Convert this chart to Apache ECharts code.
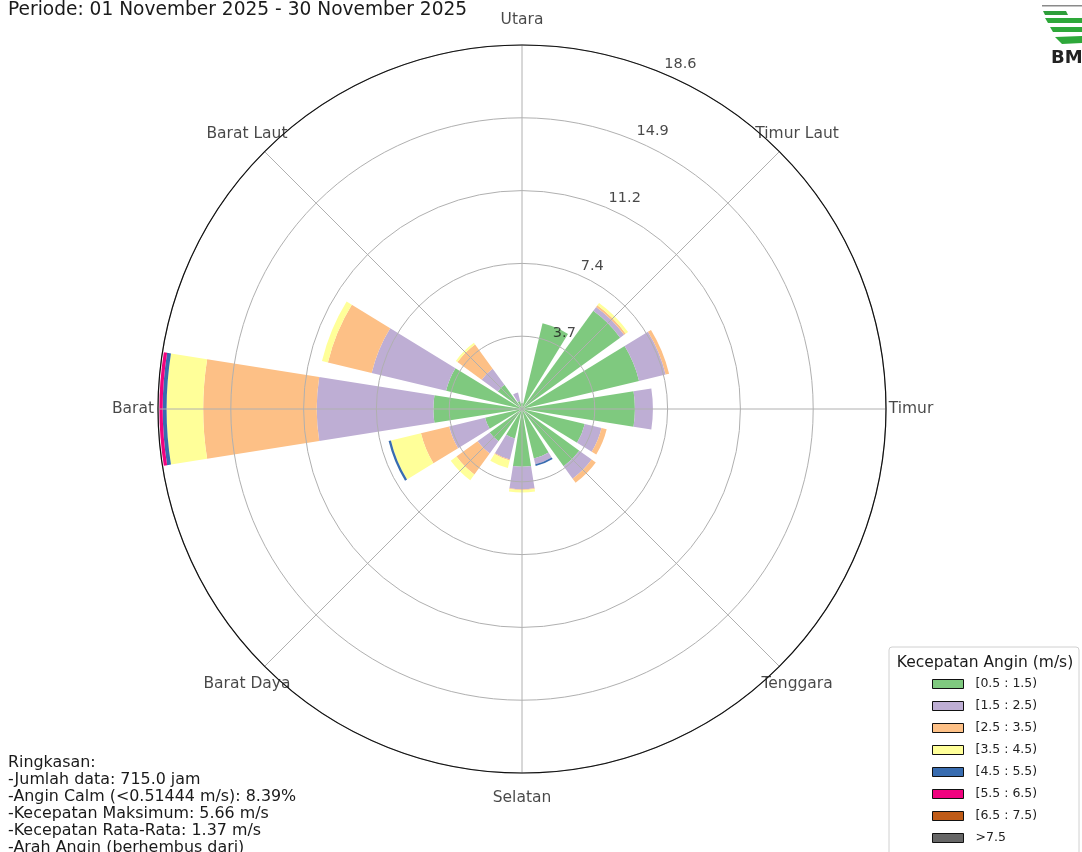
<!DOCTYPE html>
<html><head><meta charset="utf-8">
<script src="https://cdn.jsdelivr.net/npm/echarts@6/dist/echarts.min.js"></script>
<style>html,body{margin:0;padding:0;background:#fff;overflow:hidden}#main{width:1082px;height:852px;}</style>
</head><body><div id="main"></div>
<script>
// ---- data ----
const directions = ['N','NNE','NE','ENE','E','ESE','SE','SSE','S','SSW','SW','WSW','W','WNW','NW','NNW'];
const directionLabels = ['Utara','Timur Laut','Timur','Tenggara','Selatan','Barat Daya','Barat','Barat Laut'];
const directionLabelAngles = [0,45,90,135,180,225,270,315];
const speedBins = ['[0.5 : 1.5)','[1.5 : 2.5)','[2.5 : 3.5)','[3.5 : 4.5)','[4.5 : 5.5)','[5.5 : 6.5)','[6.5 : 7.5)','>7.5'];
const binColors = ['#7fc97f','#beaed4','#fdc086','#ffff99','#386cb0','#f0027f','#bf5b17','#666666'];
// frequency (%) per direction, per speed bin
const bin05_15 = [0.3,4.5,6.2,6.15,5.77,3.3,3.62,2.6,2.95,1.55,2.04,1.94,4.53,3.99,1.53,0.42];
const bin15_25 = [0,0,0.25,1.4,0.92,0.88,0.78,0.3,1.15,1.1,0.77,1.89,5.96,3.91,1.02,0.45];
const bin25_35 = [0,0,0.1,0.18,0,0.27,0.26,0,0.04,0.05,1.33,1.48,5.8,2.3,1.53,0];
const bin35_45 = [0,0,0.15,0,0,0,0,0,0.13,0.4,0.36,1.58,1.87,0.31,0.1,0];
const bin45_55 = [0,0,0,0,0,0,0,0.1,0,0,0,0.12,0.2,0,0,0];
const bin55_65 = [0,0,0,0,0,0,0,0,0,0,0,0,0.17,0,0,0];
const bin65_75 = [0,0,0,0,0,0,0,0,0,0,0,0,0,0,0,0];
const bin75_up = [0,0,0,0,0,0,0,0,0,0,0,0,0,0,0,0];
const binValues = [bin05_15,bin15_25,bin25_35,bin35_45,bin45_55,bin55_65,bin65_75,bin75_up];
const radiusTicks = [3.72, 7.44, 11.16, 14.88, 18.6];
const radiusMax = 18.6;
const radiusLabelAngle = 22.5;
const titleText = 'Periode: 01 November 2025 - 30 November 2025';
const summaryLines = ['Ringkasan:','-Jumlah data: 715.0 jam','-Angin Calm (<0.51444 m/s): 8.39%','-Kecepatan Maksimum: 5.66 m/s','-Kecepatan Rata-Rata: 1.37 m/s','-Arah Angin (berhembus dari)'];
const legendTitle = 'Kecepatan Angin (m/s)';

// ---- layout ----
const CX = 522, CY = 409, R = 364;
const FONT = 'DejaVu Sans';
const labelRadius = radiusMax * (R + 25) / R;
const nDir = directions.length;
const half = 360 / nDir / 2;

const chart = echarts.init(document.getElementById('main'));

const series = binValues.map((vals, i) => ({
  type: 'bar', name: speedBins[i], coordinateSystem: 'polar', polarIndex: 0,
  stack: 'total', data: vals, barCategoryGap: '20%',
  itemStyle: { color: binColors[i] }, z: 2, silent: true
}));

series.push({
  type: 'scatter', coordinateSystem: 'polar', polarIndex: 1, clip: false, silent: true,
  symbolSize: 1, itemStyle: { color: 'rgba(0,0,0,0)' }, z: 10,
  data: radiusTicks.map(v => [v, radiusLabelAngle]),
  label: { show: true, position: 'inside', align: 'left', verticalAlign: 'bottom', offset: [3, -1],
    formatter: p => p.value[0].toFixed(1), fontSize: 14.5, fontFamily: FONT, color: '#1a1a1a' }
});
series.push({
  type: 'scatter', coordinateSystem: 'polar', polarIndex: 1, clip: false, silent: true,
  symbolSize: 1, itemStyle: { color: 'rgba(0,0,0,0)' }, z: 10,
  data: directionLabels.map((n, i) => ({ name: n, value: [labelRadius, directionLabelAngles[i]] })),
  label: { show: true, position: 'inside', formatter: '{b}', fontSize: 15.5, fontFamily: FONT, color: '#1a1a1a' }
});

const option = {
  animation: false,
  backgroundColor: '#fff',
  polar: [
    { center: [CX, CY], radius: R },
    { center: [CX, CY], radius: R }
  ],
  angleAxis: [
    { polarIndex: 0, type: 'category', data: directions, startAngle: 90 + half, clockwise: true,
      boundaryGap: true, axisLine: { show: false }, axisTick: { show: false }, axisLabel: { show: false }, splitLine: { show: false } },
    { polarIndex: 1, type: 'value', min: 0, max: 360, interval: 45, startAngle: 90, clockwise: true, z: 6,
      axisLine: { show: true, lineStyle: { color: '#111', width: 1.2 } }, axisTick: { show: false }, axisLabel: { show: false },
      splitLine: { show: true, lineStyle: { color: '#b0b0b0', width: 1 } } }
  ],
  radiusAxis: [
    { polarIndex: 0, type: 'value', min: 0, max: radiusMax, axisLine: { show: false }, axisTick: { show: false }, axisLabel: { show: false }, splitLine: { show: false } },
    { polarIndex: 1, type: 'value', min: 0, max: radiusMax, interval: radiusTicks[0], z: 5,
      axisLine: { show: false }, axisTick: { show: false }, axisLabel: { show: false },
      splitLine: { show: true, lineStyle: { color: '#b0b0b0', width: 1 } } }
  ],
  legend: {
    orient: 'vertical', left: 932, top: 677, height: 230, padding: 0,
    itemWidth: 31, itemHeight: 9, itemGap: 8, icon: 'rect',
    data: speedBins, selectedMode: false,
    itemStyle: { borderColor: '#111', borderWidth: 1 },
    textStyle: { fontSize: 12.5, fontFamily: FONT, color: '#222', lineHeight: 14, padding: [0, 0, 0, 7] }
  },
  graphic: [
    { type: 'text', x: 8, y: 10, style: { text: titleText, fontSize: 18.6, fontFamily: FONT, fill: '#1a1a1a', align: 'left', verticalAlign: 'middle' } },
    { type: 'text', x: 8, y: 754, style: { text: summaryLines.join('\n'), fontSize: 15.9, lineHeight: 17, fontFamily: FONT, fill: '#1a1a1a', align: 'left', verticalAlign: 'top' } },
    { type: 'rect', shape: { x: 889, y: 647, width: 190, height: 210, r: 3 }, style: { fill: '#fff', stroke: '#d0d0d0', lineWidth: 1 }, z: 0 },
    { type: 'text', x: 985, y: 663, style: { text: legendTitle, fontSize: 15.5, fontFamily: FONT, fill: '#1a1a1a', align: 'center', verticalAlign: 'middle' }, z: 1 },
    // logo (approximate)
    { type: 'rect', shape: { x: 1042, y: 5, width: 42, height: 1.5 }, style: { fill: '#8a8a8a' } },
    { type: 'polygon', shape: { points: [[1043,11],[1066,11],[1068,15],[1045,15]] }, style: { fill: '#2e9e3a' } },
    { type: 'polygon', shape: { points: [[1045,18],[1084,18],[1084,23],[1048,23]] }, style: { fill: '#2ea83a' } },
    { type: 'polygon', shape: { points: [[1050,27],[1084,27],[1084,32],[1053,32]] }, style: { fill: '#2ea83a' } },
    { type: 'polygon', shape: { points: [[1055,37],[1084,36],[1084,43],[1062,44]] }, style: { fill: '#2ea83a' } },
    { type: 'text', x: 1051, y: 58, style: { text: 'BMKG', fontSize: 18, fontWeight: 'bold', fontFamily: FONT, fill: '#222', align: 'left', verticalAlign: 'middle' } }
  ],
  series: series
};
chart.setOption(option);
</script>
</body></html>
